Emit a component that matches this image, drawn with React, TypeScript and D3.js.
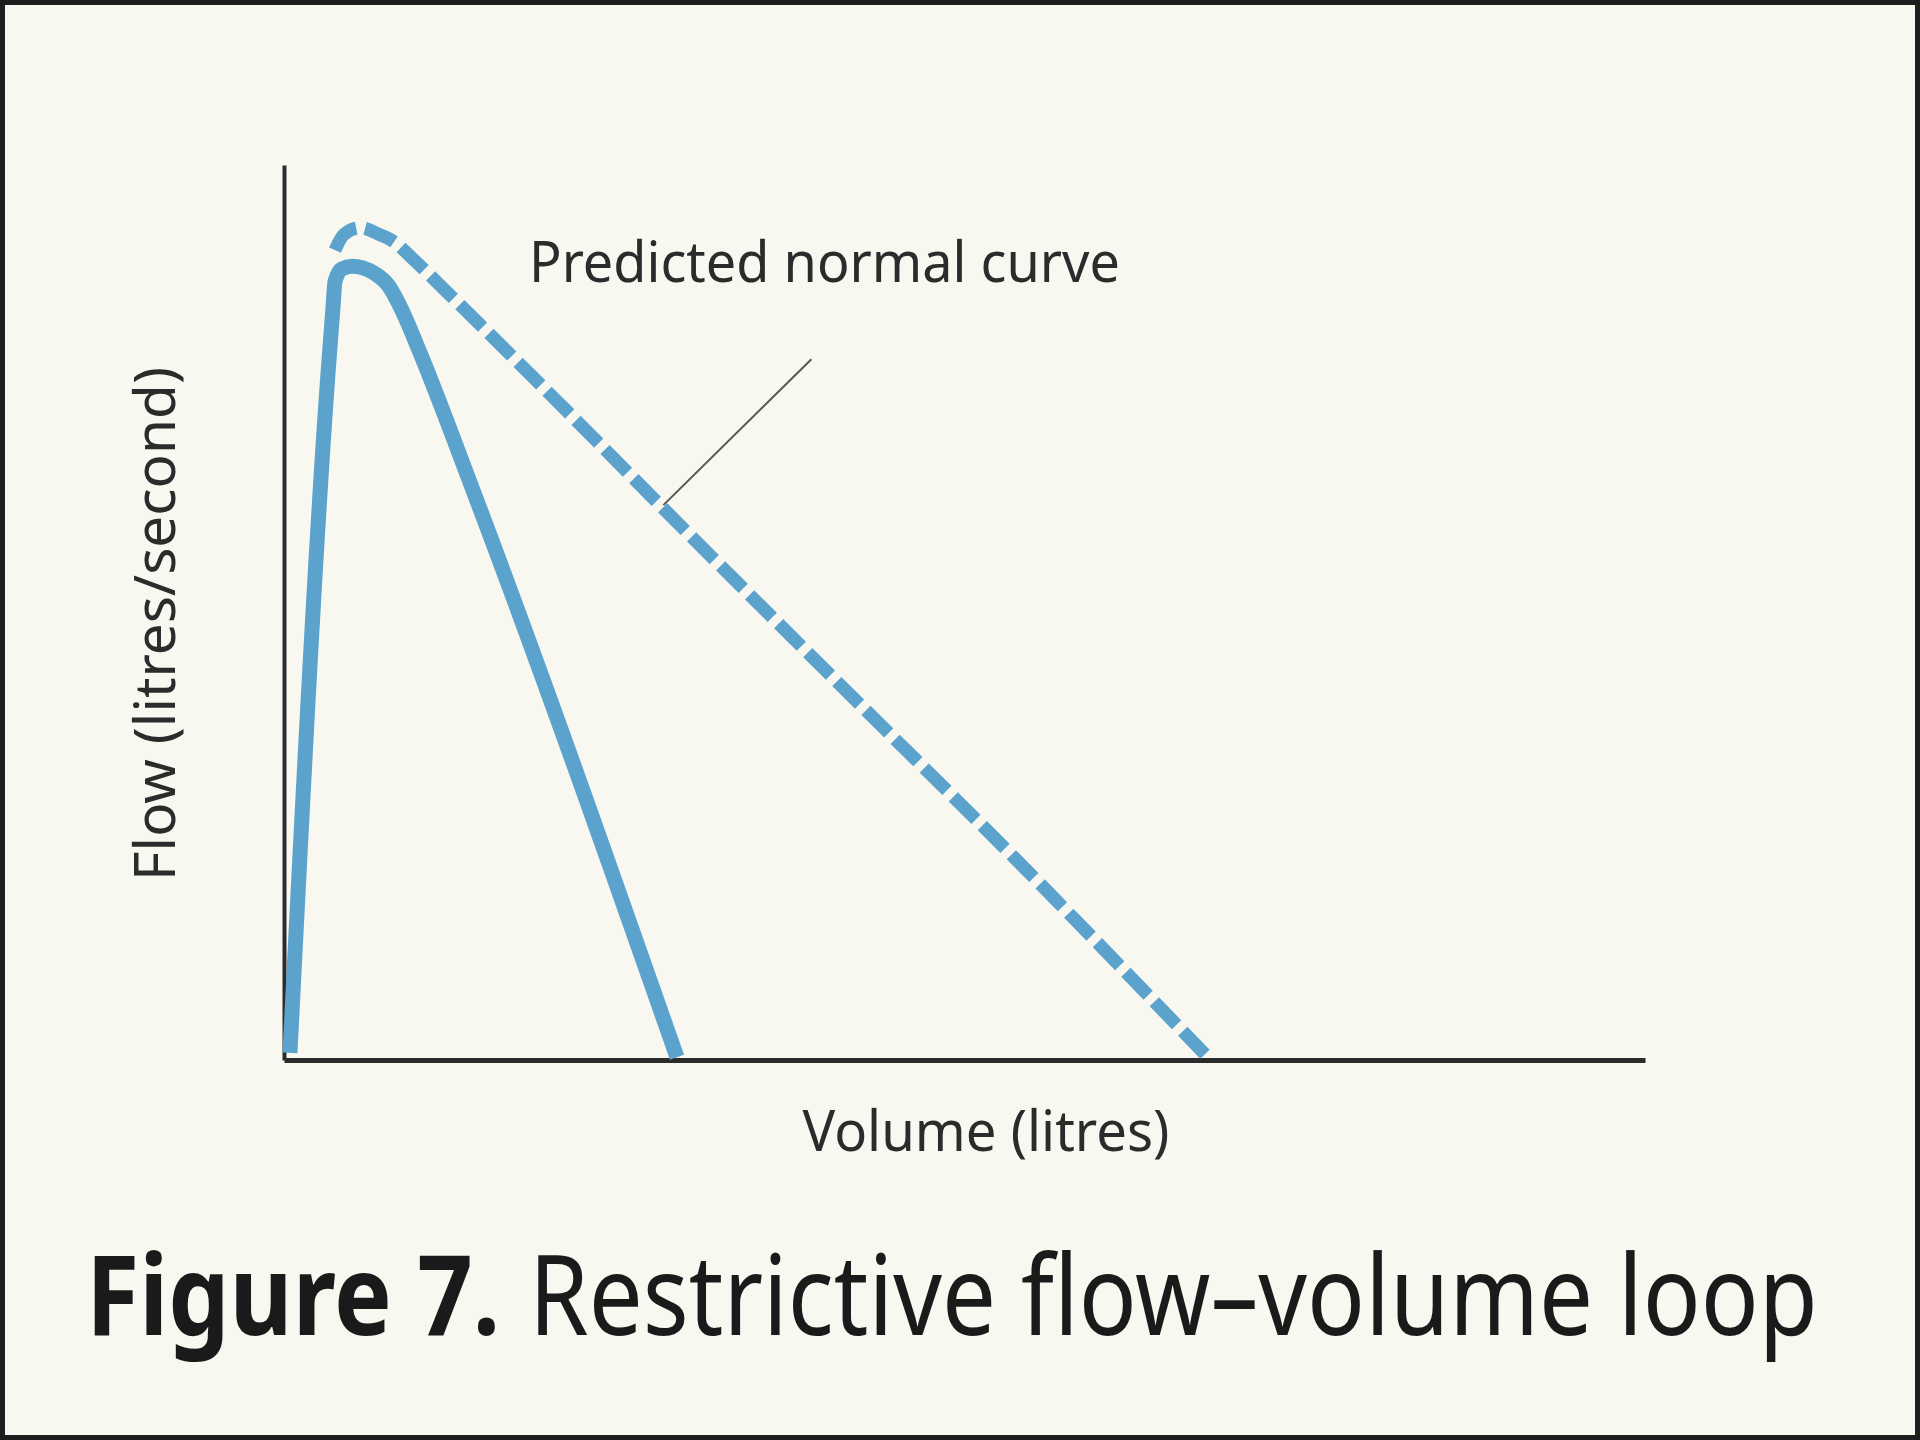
import * as d3 from 'd3';
import { useEffect, useLayoutEffect, useRef, useState } from 'react';

// Restrictive flow–volume loop: measured (solid) vs predicted normal (dashed).
// Volume in litres along x, flow in litres/second along y (no ticks drawn).

const MEASURED_VOLUME = [0.035, 0.259, 0.288, 0.3, 0.34, 0.4, 0.464, 0.54, 0.611, 0.7, 0.8, 1.11, 2.31];
const MEASURED_FLOW = [0.08, 7.68, 8.41, 8.7, 8.84, 8.87, 8.85, 8.78, 8.66, 8.35, 7.9, 6.37, 0.03];

const PREDICTED_VOLUME = [0.3, 0.35, 0.447, 0.564, 0.64, 0.758, 0.958, 1.31, 1.82, 2.21, 3.27, 4.35, 5.43];
const PREDICTED_FLOW = [9.05, 9.22, 9.3, 9.22, 9.15, 8.95, 8.58, 7.92, 6.95, 6.2, 4.19, 2.15, 0.03];

// leader line from the label to the dashed curve, in data units
const LEADER_VOLUME = [3.1, 2.23];
const LEADER_FLOW = [7.83, 6.2];

const VOLUME_DOMAIN = [0, 8];
const FLOW_DOMAIN = [0, 10];

const LABEL_PREDICTED = 'Predicted normal curve';
const LABEL_X = 'Volume (litres)';
const LABEL_Y = 'Flow (litres/second)';
const CAPTION_BOLD = 'Figure 7.';
const CAPTION_TEXT = 'Restrictive flow–volume loop';

const W = 1920;
const H = 1440;
const PLOT = { left: 284, right: 1645, top: 165, bottom: 1060 };
const BLUE = '#5ba2cd';
const INK = '#2b2b2b';
const FONT = '"Noto Sans", "Open Sans", sans-serif';

interface FitTextProps {
  x: number;
  y: number;
  width: number;
  fontSize: number;
  anchor?: 'start' | 'middle';
  rotate?: number;
  fontWeight?: number;
  fill?: string;
  children: string;
}

// The printed face is condensed; squeeze Noto Sans horizontally to the measured width.
function FitText({ x, y, width, fontSize, anchor = 'start', rotate = 0, fontWeight = 400, fill = INK, children }: FitTextProps) {
  const ref = useRef<SVGTextElement>(null);
  const [sx, setSx] = useState(1);

  useLayoutEffect(() => {
    if (!ref.current) return;
    const natural = ref.current.getComputedTextLength();
    if (natural > 0) setSx(width / natural);
  }, [width, children, fontSize]);

  return (
    <g transform={`translate(${x},${y}) rotate(${rotate}) scale(${sx},1)`}>
      <text
        ref={ref}
        x={0}
        y={0}
        textAnchor={anchor}
        fontFamily={FONT}
        fontSize={fontSize}
        fontWeight={fontWeight}
        fill={fill}
      >
        {children}
      </text>
    </g>
  );
}

export default function App() {
  const axesRef = useRef<SVGGElement>(null);

  const x = d3.scaleLinear().domain(VOLUME_DOMAIN).range([PLOT.left, PLOT.right]);
  const y = d3.scaleLinear().domain(FLOW_DOMAIN).range([PLOT.bottom, PLOT.top]);

  // volume only ever increases along both curves, so monotone-x keeps them smooth
  const line = d3
    .line<[number, number]>()
    .x(d => x(d[0]))
    .y(d => y(d[1]))
    .curve(d3.curveMonotoneX);

  const measured = MEASURED_VOLUME.map((v, i) => [v, MEASURED_FLOW[i]] as [number, number]);
  const predicted = PREDICTED_VOLUME.map((v, i) => [v, PREDICTED_FLOW[i]] as [number, number]);
  const leader = LEADER_VOLUME.map((v, i) => [v, LEADER_FLOW[i]] as [number, number]);

  useEffect(() => {
    if (!axesRef.current) return;
    const g = d3.select(axesRef.current);
    g.selectAll('*').remove();

    // bare axes, no ticks
    const xAxis = g.append('g')
      .attr('transform', `translate(0,${PLOT.bottom})`)
      .call(d3.axisBottom(x).tickValues([]).tickSizeOuter(0));
    const yAxis = g.append('g')
      .attr('transform', `translate(${PLOT.left},0)`)
      .call(d3.axisLeft(y).tickValues([]).tickSizeOuter(0));

    xAxis.select('.domain').attr('stroke', INK).attr('stroke-width', 5);
    yAxis.select('.domain').attr('stroke', INK).attr('stroke-width', 4);
  }, []);

  return (
    <svg
      width={W}
      height={H}
      style={{ position: 'absolute', left: 0, top: 0, display: 'block' }}
    >
      <rect x={0} y={0} width={W} height={H} fill="#f8f8f0" />
      <rect x={2.5} y={2.5} width={W - 5} height={H - 5} fill="none" stroke="#1e1e1e" strokeWidth={5} />

      <g ref={axesRef} />

      <path
        d={line(predicted) ?? ''}
        fill="none"
        stroke={BLUE}
        strokeWidth={13}
        strokeDasharray="32 9"
      />
      <path
        d={line(measured) ?? ''}
        fill="none"
        stroke={BLUE}
        strokeWidth={15}
        strokeLinejoin="round"
      />

      <line
        x1={x(leader[0][0])}
        y1={y(leader[0][1])}
        x2={x(leader[1][0])}
        y2={y(leader[1][1])}
        stroke="#555"
        strokeWidth={2}
      />

      <FitText x={529} y={282} width={591} fontSize={56}>{LABEL_PREDICTED}</FitText>
      <FitText x={986} y={1151} width={367} fontSize={56} anchor="middle">{LABEL_X}</FitText>
      <FitText x={175} y={624} width={514} fontSize={56} anchor="middle" rotate={-90}>{LABEL_Y}</FitText>

      <FitText x={86} y={1335} width={414} fontSize={112} fontWeight={700} fill="#1a1a1a">{CAPTION_BOLD}</FitText>
      <FitText x={529} y={1335} width={1289} fontSize={112} fill="#1a1a1a">{CAPTION_TEXT}</FitText>
    </svg>
  );
}
